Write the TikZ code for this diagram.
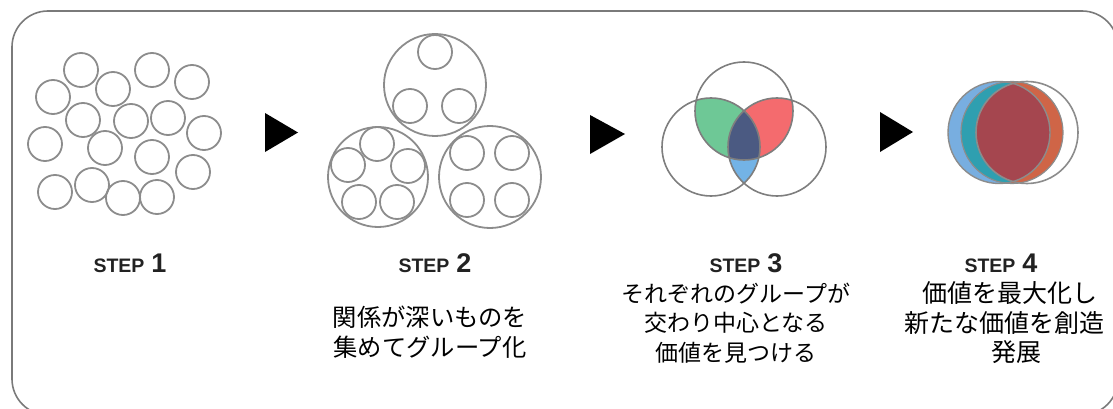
\documentclass[tikz,border=0pt]{standalone}
\usepackage{fontspec}
\newfontfamily\jpfont{Noto Sans CJK JP}
\newfontfamily\stepfont{Liberation Sans}
\definecolor{framegray}{HTML}{7A7A7A}
\definecolor{ringgray}{HTML}{8C8C8C}
\definecolor{vgreen}{HTML}{6EC896}
\definecolor{vred}{HTML}{F46B6E}
\definecolor{vblue}{HTML}{73B3E6}
\definecolor{vdark}{HTML}{4B5A82}
\definecolor{fblue}{HTML}{78AEE0}
\definecolor{fteal}{HTML}{2F9FB0}
\definecolor{fred}{HTML}{A5464F}
\definecolor{forange}{HTML}{CF6547}
\definecolor{steptext}{HTML}{222222}
\tikzset{
  ring/.style={draw=ringgray, line width=1.8pt},
  bigring/.style={draw=ringgray, line width=1.8pt},
  vennline/.style={draw=ringgray!90!black, line width=1.6pt},
  playarrow/.style={fill=black},
  steplabel/.style={anchor=base, text=steptext, inner sep=0pt},
  jptext/.style={align=center, inner sep=0pt, text=black},
}
\newcommand{\steptxt}[1]{{\stepfont\bfseries\fontsize{19.5}{19.5}\selectfont STEP\hspace{7pt}\fontsize{27}{27}\selectfont #1}}
\begin{document}
\begin{tikzpicture}[x=1pt,y=-1pt]
\useasboundingbox (0,0) rectangle (1113,409);
% frame
\draw[framegray, line width=1.6pt, rounded corners=36pt] (12,11) rectangle (1118,415);

% STEP 1 circles
\foreach \cx/\cy in {81/70,152/70,192/82,53/97,113/89,83/120,131/121,168/118,204/133,45/144,105/148,152/157,193/172,55/192,92/185,123/198,157/197}
  \draw[ring] (\cx,\cy) circle[radius=17];

% arrows
\fill[playarrow] (265,113) -- (298,132.5) -- (265,152) -- cycle;
\fill[playarrow] (590,115) -- (625,134) -- (590,154) -- cycle;
\fill[playarrow] (880,112) -- (913,132) -- (880,152) -- cycle;

% STEP 2 groups
\draw[bigring] (435,85) circle[radius=51];
\foreach \cx/\cy in {435/52,410/106,459/106}
  \draw[ring] (\cx,\cy) circle[radius=17];
\draw[bigring] (378,177) circle[radius=50];
\foreach \cx/\cy in {377/144,348/165,408/166,359/202,397/202}
  \draw[ring] (\cx,\cy) circle[radius=17];
\draw[bigring] (490,177) circle[radius=51];
\foreach \cx/\cy in {467/153,512/153,467/200,512/200}
  \draw[ring] (\cx,\cy) circle[radius=17];

% STEP 3 venn
\coordinate (vt) at (744,111);
\coordinate (vl) at (711,147);
\coordinate (vr) at (777,147);
\begin{scope}
  \clip (vl) circle[radius=49];
  \fill[vblue] (vr) circle[radius=49];
\end{scope}
\begin{scope}
  \clip (vt) circle[radius=49];
  \fill[vgreen] (vl) circle[radius=49];
  \fill[vred] (vr) circle[radius=49];
  \clip (vl) circle[radius=49];
  \fill[vdark] (vr) circle[radius=49];
\end{scope}
\draw[vennline] (vt) circle[radius=49];
\draw[vennline] (vl) circle[radius=49];
\draw[vennline] (vr) circle[radius=49];

% STEP 4 overlapping circles
\coordinate (ca) at (999,132.5);
\coordinate (cb) at (1012,132.5);
\coordinate (cc) at (1027,132.5);
\fill[fblue] (ca) circle[radius=51];
\fill[forange] (cb) circle[radius=51];
\begin{scope}
  \clip (cb) circle[radius=51];
  \fill[fteal] (ca) circle[radius=51];
\end{scope}
\begin{scope}
  \clip (ca) circle[radius=51];
  \fill[fred] (cc) circle[radius=51];
\end{scope}
\draw[ringgray, line width=1.4pt] (ca) circle[radius=51];
\draw[ringgray, line width=1.2pt] (cb) circle[radius=51];
\draw[ringgray, line width=1.6pt] (cc) circle[radius=51];

% STEP labels
\node[steplabel] (s1) at (130,272) {\steptxt{1}};
\node[steplabel] (s2) at (435,272) {\steptxt{2}};
\node[steplabel] (s3) at (746,272) {\steptxt{3}};
\node[steplabel] (s4) at (1001,272) {\steptxt{4}};

% Japanese descriptions
\node[jptext, font=\jpfont\fontsize{24.3}{29.5}\selectfont] (t2) at (430,332) {関係が深いものを\\集めてグループ化};
\node[jptext, font=\jpfont\fontsize{23}{29.5}\selectfont] (t3) at (736,323) {それぞれのグループが\\交わり中心となる\\価値を見つける};
\node[jptext, font=\jpfont\fontsize{25}{29.5}\selectfont] (t4) at (1004,323) {\hspace*{12pt}価値を最大化し\\新たな価値を創造\\\hspace*{24pt}発展};
\end{tikzpicture}
\end{document}
